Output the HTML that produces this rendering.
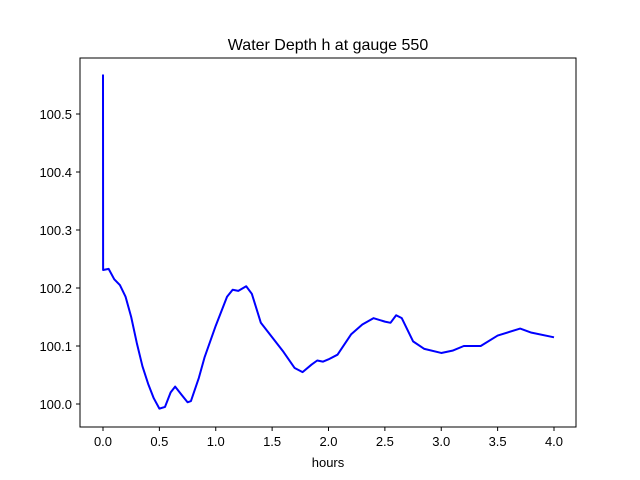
<!DOCTYPE html>
<html><head><meta charset="utf-8"><style>
body{margin:0;background:#fff;}
svg{display:block;font-family:"Liberation Sans","DejaVu Sans",sans-serif;}
</style></head><body>
<svg id="chart" width="640" height="480">
<rect x="0" y="0" width="640" height="480" fill="#fff"/>
<text x="328" y="50" font-size="16" text-anchor="middle">Water Depth h at gauge 550</text>
<g id="ticks"></g>
<path id="line" fill="none" stroke="#0000ff" stroke-width="2" stroke-linejoin="round"/>
<rect x="80" y="58" width="496" height="369" fill="none" stroke="#000" stroke-width="1"/>
<text x="328" y="467" font-size="13" text-anchor="middle">hours</text>
</svg>
<script>
const hours=[0,0.001,0.05,0.1,0.15,0.2,0.25,0.3,0.35,0.4,0.45,0.5,0.55,0.6,0.64,0.7,0.75,0.78,0.85,0.9,1.0,1.1,1.15,1.2,1.27,1.32,1.4,1.5,1.6,1.7,1.77,1.85,1.9,1.95,2.0,2.08,2.2,2.3,2.4,2.5,2.55,2.6,2.65,2.75,2.85,3.0,3.1,3.2,3.35,3.5,3.7,3.8,4.0];
const depth=[100.568,100.231,100.233,100.215,100.205,100.185,100.15,100.105,100.065,100.035,100.01,99.992,99.995,100.02,100.03,100.015,100.003,100.005,100.045,100.08,100.135,100.185,100.197,100.195,100.203,100.19,100.14,100.115,100.09,100.062,100.055,100.068,100.075,100.073,100.077,100.085,100.12,100.137,100.148,100.142,100.14,100.153,100.148,100.108,100.095,100.088,100.092,100.1,100.1,100.118,100.13,100.123,100.115];
const xTicks=[0,0.5,1,1.5,2,2.5,3,3.5,4];
const xLabels=["0.0","0.5","1.0","1.5","2.0","2.5","3.0","3.5","4.0"];
const yTicks=[100.0,100.1,100.2,100.3,100.4,100.5];
const yLabels=["100.0","100.1","100.2","100.3","100.4","100.5"];
const sx=v=>103+v*112.75;
const sy=v=>404-(v-100)*580;
const NS="http://www.w3.org/2000/svg";
const g=document.getElementById('ticks');
function mk(tag,attrs){const e=document.createElementNS(NS,tag);for(const k in attrs)e.setAttribute(k,attrs[k]);return e;}
xTicks.forEach((t,i)=>{
  const l=mk('line',{x1:sx(t),x2:sx(t),y1:427,y2:431,stroke:'#000'});
  
  
  g.appendChild(l);
  const tx=mk('text',{x:sx(t),y:446,'font-size':13,'text-anchor':'middle'});
  tx.textContent=xLabels[i];
  
  
  g.appendChild(tx);
});
yTicks.forEach((t,i)=>{
  const l=mk('line',{x1:76,x2:80,y1:sy(t),y2:sy(t),stroke:'#000'});
  
  
  g.appendChild(l);
  const tx=mk('text',{x:72,y:sy(t)+5,'font-size':13,'text-anchor':'end'});
  tx.textContent=yLabels[i];
  
  
  g.appendChild(tx);
});
let d='';
hours.forEach((h,i)=>{d+=(i?'L':'M')+sx(h).toFixed(2)+','+sy(depth[i]).toFixed(2);});
document.getElementById('line').setAttribute('d',d);
</script>
</body></html>
